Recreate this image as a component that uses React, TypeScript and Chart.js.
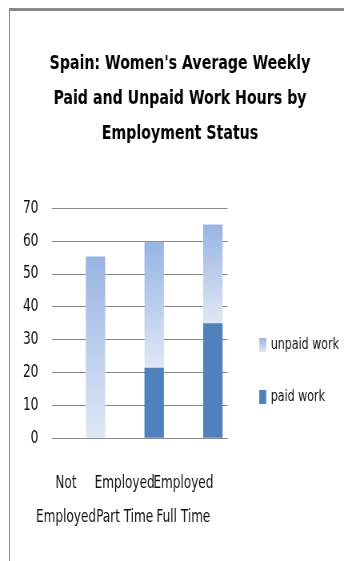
import React, { useEffect, useRef } from "react";
import { Chart, registerables } from "chart.js";

Chart.register(...registerables);

const titleLines = ["Spain: Women's Average Weekly", "Paid and Unpaid Work Hours by", "Employment Status"];
const categories = [["Not", "Employed"], ["Employed", "Part Time"], ["Employed", "Full Time"]];
const seriesNames = ["paid work", "unpaid work"];
const paidWork = [0, 21.5, 35];
const unpaidWork = [55.3, 38.3, 30.1];
const yMin = 0;
const yMax = 70;
const yStep = 10;

// The reference text is a narrow face; the canvas is drawn wider and squeezed horizontally by CSS.
const SQUEEZE = 0.8;
const VIEW_W = 344;
const VIEW_H = 561;
const CANVAS_W = Math.round(VIEW_W / SQUEEZE);

const PAID_COLOR = "#4f81bd";
const UNPAID_TOP = "#98b4e4";
const UNPAID_BOTTOM = "#dfe7f5";
const FONT = "'DejaVu Sans Condensed', 'Liberation Sans', sans-serif";

const sideLegend = {
  id: "sideLegend",
  afterDraw(chart: any) {
    const { ctx, chartArea } = chart;
    const x = chartArea.right + 39.5;
    const items = [
      { label: seriesNames[1], cy: chartArea.top + 136.7, grad: true },
      { label: seriesNames[0], cy: chartArea.top + 188.7, grad: false },
    ];
    ctx.save();
    for (const it of items) {
      const top = it.cy - 7;
      let fill: any = PAID_COLOR;
      if (it.grad) {
        const g = ctx.createLinearGradient(0, top, 0, top + 14);
        g.addColorStop(0, UNPAID_TOP);
        g.addColorStop(1, UNPAID_BOTTOM);
        fill = g;
      }
      ctx.fillStyle = fill;
      ctx.fillRect(x, top, 8.75, 14);
      ctx.fillStyle = "#111";
      ctx.font = `15.4px ${FONT}`;
      ctx.textBaseline = "middle";
      ctx.textAlign = "left";
      ctx.fillText(it.label, x + 14.3, it.cy);
    }
    ctx.restore();
  },
};

export default function App() {
  const ref = useRef<HTMLCanvasElement | null>(null);

  useEffect(() => {
    document.body.style.margin = "0";
    const canvas = ref.current;
    if (!canvas) return;

    const unpaidFill = (c: any) => {
      const chart = c.chart;
      const y = chart.scales && chart.scales.y;
      if (c.type !== "data" || !y || !chart.chartArea) return UNPAID_TOP;
      const i = c.dataIndex;
      const top = y.getPixelForValue(paidWork[i] + unpaidWork[i]);
      const bot = y.getPixelForValue(paidWork[i]);
      if (!isFinite(top) || !isFinite(bot) || top === bot) return UNPAID_TOP;
      const g = chart.ctx.createLinearGradient(0, top, 0, bot);
      g.addColorStop(0, UNPAID_TOP);
      g.addColorStop(1, UNPAID_BOTTOM);
      return g;
    };

    const chart = new Chart(canvas, {
      type: "bar",
      data: {
        labels: categories,
        datasets: [
          { label: "", data: categories.map(() => null), stack: "spacer", backgroundColor: "rgba(0,0,0,0)" },
          { label: seriesNames[0], data: paidWork, stack: "work", backgroundColor: PAID_COLOR, borderWidth: 0 },
          { label: seriesNames[1], data: unpaidWork, stack: "work", backgroundColor: unpaidFill, borderWidth: 0 },
        ],
      },
      options: {
        animation: false,
        responsive: false,
        maintainAspectRatio: false,
        devicePixelRatio: 1,
        categoryPercentage: 0.99,
        barPercentage: 0.67,
        layout: { padding: { left: 20, right: 0, top: 0, bottom: 0 } },
        plugins: {
          legend: { display: false },
          tooltip: { enabled: false },
          title: {
            display: true,
            text: titleLines,
            color: "#000",
            font: { family: FONT, size: 19.7, weight: "bold", lineHeight: "35px" },
            padding: { top: 46, bottom: 57.3 },
          },
        },
        scales: {
          x: {
            stacked: true,
            offset: true,
            grid: { display: false, drawTicks: false },
            border: { display: false },
            afterFit: (s: any) => { s.height = VIEW_H - 438.3; },
            ticks: {
              color: "#111",
              font: { family: FONT, size: 16.8, lineHeight: "34px" },
              padding: 28.7,
              labelOffset: -18.75,
              maxRotation: 0,
              minRotation: 0,
              autoSkip: false,
            },
          },
          y: {
            stacked: true,
            min: yMin,
            max: yMax,
            grid: { color: "#8a8a8a", lineWidth: 1, drawTicks: false },
            border: { display: false },
            afterFit: (s: any) => { s.width = 44.6; },
            ticks: {
              stepSize: yStep,
              color: "#111",
              font: { family: FONT, size: 17 },
              padding: 16.5,
            },
          },
          legendSpace: {
            type: "linear",
            position: "right",
            display: true,
            grid: { display: false, drawTicks: false },
            border: { display: false },
            ticks: { display: false },
            afterFit: (s: any) => { s.width = 145.4; },
          },
        },
      },
      plugins: [sideLegend],
    } as any);

    return () => chart.destroy();
  }, []);

  return (
    <div style={{ position: "relative", width: VIEW_W, height: VIEW_H, overflow: "hidden" }}>
      <div
        style={{
          position: "absolute",
          left: 9,
          top: 8,
          right: 0,
          bottom: 0,
          borderTop: "3px solid #888888",
          borderLeft: "1px solid #8a8a8a",
        }}
      />
      <canvas
        ref={ref}
        width={CANVAS_W}
        height={VIEW_H}
        style={{ position: "absolute", left: 0, top: 0, width: VIEW_W, height: VIEW_H }}
      />
    </div>
  );
}
